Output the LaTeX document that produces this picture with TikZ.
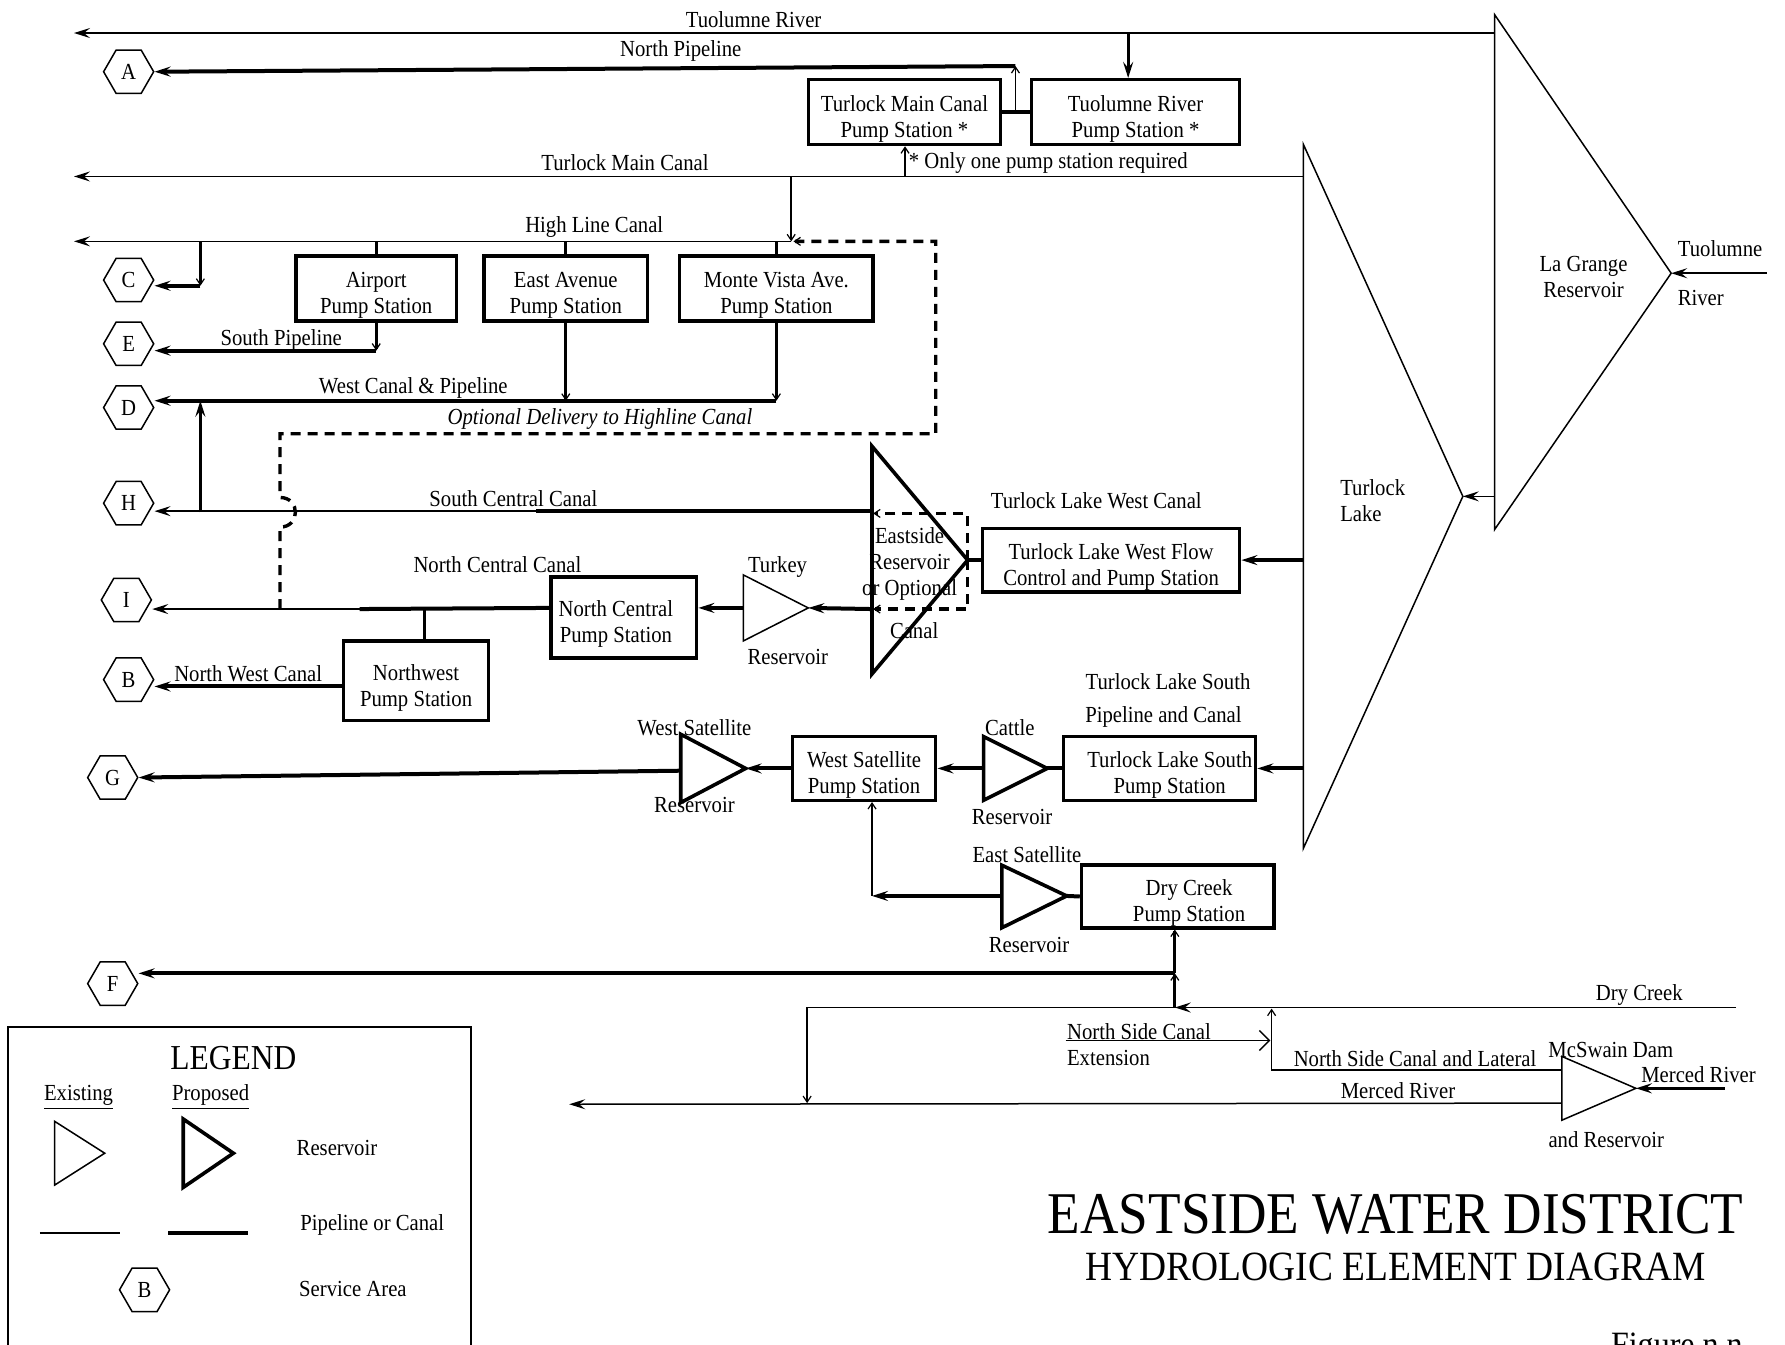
\documentclass[tikz,border=0pt]{standalone}
\usepackage{fontspec}
\setmainfont{Liberation Serif}[FakeStretch=0.9]
\usetikzlibrary{arrows.meta,shapes.geometric,fit}

\begin{document}
\begin{tikzpicture}[x=0.02cm,y=-0.02cm,
    every node/.style={font=\fontsize{11.5}{13}\selectfont},
    pipe/.style={line width=0.75pt},
    newpipe/.style={line width=2pt},
    link/.style={line width=1.4pt},
    arr/.style={-{Stealth[length=8pt,width=5pt,inset=3pt]}},
    barb/.style={-{Straight Barb[length=3pt,width=4pt,line width=0.6pt]}},
    pump/.style={draw,line width=1.7pt,inner sep=0pt},
    boxtext/.style={align=center,yshift=-0.12cm},
    res/.style={line width=0.75pt,line join=miter},
    newres/.style={line width=1.8pt,line join=miter},
    area/.style={draw,line width=0.75pt,regular polygon,regular polygon sides=6,
      minimum size=0.88cm,inner sep=0pt},
    optional/.style={line width=1.7pt,dash pattern=on 5pt off 3.5pt}]
  \useasboundingbox (0,0) rectangle (1568,1181);

  % service areas
  \node[area] (A) at (113,63) {A}; \node[area] (C) at (113,246) {C};
  \node[area] (E) at (113,302) {E}; \node[area] (D) at (113,358) {D};
  \node[area] (H) at (113,442) {H}; \node[area] (I) at (111,527) {I};
  \node[area] (B) at (113,597) {B}; \node[area] (G) at (99,683) {G};
  \node[area] (F) at (99,864) {F};

  % pump stations
  \node[pump,fit={(710,70) (879,127)}] (tmcps) {};
  \node[pump,fit={(906,70) (1089,127)}] (trps) {};
  \node[pump,fit={(260,225) (401,282)}] (aps) {};
  \node[pump,fit={(425,225) (569,282)}] (eaps) {};
  \node[pump,fit={(597,225) (767,282)}] (mvps) {};
  \node[pump,fit={(863,464) (1089,520)}] (tlwps) {};
  \node[pump,fit={(484,507) (612,578)}] (ncps) {};
  \node[pump,fit={(302,563) (429,633)}] (nwps) {};
  \node[pump,fit={(696,647) (822,703)}] (wsps) {};
  \node[pump,fit={(934,647) (1103,703)}] (tlsps) {};
  \node[pump,fit={(950,760) (1119,815)}] (dcps) {};
  \node[boxtext] (tmcps-t) at (tmcps) {Turlock Main Canal\\Pump Station *};
  \node[boxtext] (trps-t) at (trps) {Tuolumne River\\Pump Station *};
  \node[boxtext] (aps-t) at (aps) {Airport\\Pump Station};
  \node[boxtext] (eaps-t) at (eaps) {East Avenue\\Pump Station};
  \node[boxtext] (mvps-t) at (mvps) {Monte Vista Ave.\\Pump Station};
  \node[boxtext] (tlwps-t) at (tlwps) {Turlock Lake West Flow\\Control and Pump Station};
  \node[boxtext,xshift=-0.14cm] (ncps-t) at (ncps) {North Central\\Pump Station};
  \node[boxtext] (nwps-t) at (nwps) {Northwest\\Pump Station};
  \node[boxtext] (wsps-t) at (wsps) {West Satellite\\Pump Station};
  \node[boxtext,xshift=0.18cm] (tlsps-t) at (tlsps) {Turlock Lake South\\Pump Station};
  \node[boxtext,xshift=0.2cm] (dcps-t) at (dcps) {Dry Creek\\Pump Station};

  % reservoirs
  \coordinate (lg-top) at (1313,13); \coordinate (lg-bot) at (1313,465);
  \coordinate (lg-tip) at (1468,240);
  \draw[res] (lg-top) -- (lg-bot) -- (lg-tip) -- cycle;
  \coordinate (tl-top) at (1145,127); \coordinate (tl-bot) at (1145,745);
  \coordinate (tl-tip) at (1285,436);
  \draw[res] (tl-top) -- (tl-bot) -- (tl-tip) -- cycle;
  \coordinate (es-top) at (766,392); \coordinate (es-bot) at (766,592);
  \coordinate (es-tip) at (850,492);
  \draw[newres] (es-top) -- (es-bot) -- (es-tip) -- cycle;
  \coordinate (tk-top) at (653,505); \coordinate (tk-bot) at (653,563);
  \coordinate (tk-tip) at (710,534);
  \draw[res] (tk-top) -- (tk-bot) -- (tk-tip) -- cycle;
  \coordinate (wsr-top) at (598,645); \coordinate (wsr-bot) at (598,705);
  \coordinate (wsr-tip) at (655,675);
  \draw[newres] (wsr-top) -- (wsr-bot) -- (wsr-tip) -- cycle;
  \coordinate (ct-top) at (864,647); \coordinate (ct-bot) at (864,703);
  \coordinate (ct-tip) at (920,675);
  \draw[newres] (ct-top) -- (ct-bot) -- (ct-tip) -- cycle;
  \coordinate (esr-top) at (880,760); \coordinate (esr-bot) at (880,815);
  \coordinate (esr-tip) at (937,787);
  \draw[newres] (esr-top) -- (esr-bot) -- (esr-tip) -- cycle;
  \coordinate (ms-top) at (1372,928); \coordinate (ms-bot) at (1372,984);
  \coordinate (ms-tip) at (1437,956);
  \draw[res] (ms-top) -- (ms-bot) -- (ms-tip) -- cycle;

  % Tuolumne River and North Pipeline
  \coordinate (tr-in) at (1552,240); \coordinate (tr-e) at (1313,29);
  \coordinate (tr-w) at (65,29); \coordinate (tr-tap) at (991,29);
  \coordinate (lg-out) at (1313,436);
  \draw[pipe,arr] (tr-in) -- (lg-tip);
  \draw[pipe,arr] (lg-out) -- (tl-tip);
  \draw[pipe,arr] (tr-e) -- (tr-w);
  \draw[link,arr] (tr-tap) -- (tr-tap |- trps.north);
  \draw[newpipe] (tmcps.east) -- (trps.west);
  \coordinate (np-j) at (892,99); \coordinate (np-top) at (892,58);
  \draw[pipe,barb] (np-j) -- (np-top);
  \draw[newpipe,arr] (np-top) -- (A.east);

  % Turlock Main Canal and High Line Canal
  \coordinate (tmc-e) at (1145,155); \coordinate (tmc-w) at (65,155);
  \coordinate (tmc-tap) at (795,155); \coordinate (hl-tap) at (695,155);
  \coordinate (hl-j) at (695,212); \coordinate (hl-w) at (65,212);
  \draw[pipe,arr] (tmc-e) -- (tmc-w);
  \draw[link,barb] (tmc-tap) -- (tmc-tap |- tmcps.south);
  \draw[pipe,barb] (hl-tap) -- (hl-j);
  \draw[pipe,arr] (hl-j) -- (hl-w);
  \draw[link] (aps.north |- hl-j) -- (aps.north);
  \draw[link] (eaps.north |- hl-j) -- (eaps.north);
  \draw[link] (mvps.north |- hl-j) -- (mvps.north);
  \coordinate (c-tap) at (176,212); \coordinate (c-j) at (176,251);
  \draw[link,barb] (c-tap) -- (c-j);
  \draw[newpipe,arr] (c-j) -- (C.east |- c-j);
  \coordinate (sp-j) at (330,308);
  \draw[link,barb] (aps.south) -- (aps.south |- sp-j);
  \draw[newpipe,arr] (aps.south |- sp-j) -- (E.east |- sp-j);
  \coordinate (wc-e) at (682,352);
  \draw[link,barb] (eaps.south) -- (eaps.south |- wc-e);
  \draw[link,barb] (mvps.south) -- (mvps.south |- wc-e);
  \draw[newpipe,arr] (mvps.south |- wc-e) -- (D.east |- wc-e);
  \coordinate (h-j) at (176,450);
  \draw[link,arr] (h-j) -- (h-j |- wc-e);

  % Eastside Reservoir and canals
  \coordinate (sc-e) at (766,449); \coordinate (sc-mid) at (471,449);
  \draw[newpipe] (sc-e) -- (sc-mid);
  \draw[pipe,arr] (sc-mid) -- (H.east |- sc-mid);
  \draw[optional,barb] (es-tip) -- (850,451) -- (767,451);
  \draw[optional,barb] (es-tip) -- (850,535) -- (767,535);
  \draw[newpipe] (es-tip) -- (tlwps.west);
  \coordinate (tl-w1) at (1145,492);
  \draw[newpipe,arr] (tl-w1) -- (tlwps.east);
  \coordinate (es-w) at (766,535);
  \draw[newpipe,arr] (es-w) -- (tk-tip);
  \draw[newpipe,arr] (653,534) -- (ncps.east |- tk-tip);
  \coordinate (nc-mid) at (316,535); \coordinate (nc-tap) at (373,535);
  \draw[newpipe] (ncps.west |- tk-tip) -- (nc-mid);
  \draw[pipe,arr] (nc-mid) -- (I.east |- nc-mid);
  \draw[link] (nc-tap) -- (nc-tap |- nwps.north);
  \coordinate (nw-j) at (302,603);
  \draw[newpipe,arr] (nw-j) -- (B.east |- nw-j);
  % optional delivery, jumping over South Central Canal
  \coordinate (od-s) at (246,535); \coordinate (od-e) at (697,212);
  \draw[optional,barb] (od-s) -- (246,463) .. controls (264,463) and (264,437) .. (246,437)
    -- (246,381) -- (822,381) -- (822,212) -- (od-e);

  % south side
  \draw[newpipe,arr] (wsps.west) -- (wsr-tip);
  \draw[newpipe,arr] (598,677) -- (G.east);
  \draw[newpipe,arr] (ct-top |- ct-tip) -- (wsps.east);
  \draw[newpipe] (tlsps.west) -- (ct-tip);
  \coordinate (tl-w2) at (1145,675);
  \draw[newpipe,arr] (tl-w2) -- (tlsps.east);
  \draw[newpipe] (dcps.west) -- (esr-tip);
  \coordinate (ws-j) at (766,787);
  \draw[newpipe,arr] (esr-top |- esr-tip) -- (ws-j);
  \draw[link,barb] (ws-j) -- (ws-j |- wsps.south);
  \coordinate (f-j) at (1032,855);
  \draw[link,barb] (f-j) -- (f-j |- dcps.south);
  \draw[newpipe,arr] (f-j) -- (F.east |- f-j);

  % Dry Creek, North Side Canal, Merced River
  \coordinate (dc-e) at (1525,885); \coordinate (dc-j) at (1032,885);
  \coordinate (dc-w) at (709,885); \coordinate (mr-j) at (709,969);
  \draw[pipe,arr] (dc-e) -- (dc-j);
  \draw[link,barb] (dc-j) -- (f-j);
  \draw[pipe,barb] (dc-j) -- (dc-w) -- (mr-j);
  \coordinate (ns-e) at (1372,940); \coordinate (ns-c) at (1117,940);
  \coordinate (ns-j) at (1117,886);
  \draw[pipe,barb] (ns-e) -- (ns-c) -- (ns-j);
  \coordinate (nse-w) at (936,914); \coordinate (nse-e) at (1116,914);
  \draw[pipe,-{Straight Barb[length=5pt,width=10pt,line width=0.75pt]}] (nse-w) -- (nse-e);
  \coordinate (mr-in) at (1515,956); \coordinate (mr-e) at (1372,969);
  \coordinate (mr-w) at (500,970);
  \draw[link,arr] (mr-in) -- (ms-tip);
  \draw[pipe,arr] (mr-e) -- (mr-w);

  % labels
  \node (l-tr) at (662,17) {Tuolumne River};
  \node (l-np) at (598,45) {North Pipeline};
  \node (l-tmc) at (549,143) {Turlock Main Canal};
  \node[anchor=west,inner sep=0pt] (l-one) at (798,143) {* Only one pump station required};
  \node (l-hl) at (522,199) {High Line Canal};
  \node (l-sp) at (247,299) {South Pipeline};
  \node (l-wc) at (363,341) {West Canal \& Pipeline};
  \node (l-od) at (527,368) {\itshape Optional Delivery to Highline Canal};
  \node (l-sc) at (451,438) {South Central Canal};
  \node (l-nc) at (437,496) {North Central Canal};
  \node (l-nw) at (218,592) {North West Canal};
  \node (l-tlw) at (963,440) {Turlock Lake West Canal};
  \node[align=center] (l-es) at (799,495) {Eastside\\Reservoir\\or Optional};
  \node (l-esc) at (803,554) {Canal};
  \node (l-tk1) at (683,498) {Turkey}; \node (l-tk2) at (692,577) {Reservoir};
  \node (l-tls1) at (1026,599) {Turlock Lake South};
  \node (l-tls2) at (1022,630) {Pipeline and Canal};
  \node (l-ws1) at (610,639) {West Satellite}; \node (l-ws2) at (610,707) {Reservoir};
  \node (l-ct1) at (887,639) {Cattle}; \node (l-ct2) at (889,718) {Reservoir};
  \node (l-es1) at (902,751) {East Satellite}; \node (l-es2) at (904,830) {Reservoir};
  \node[align=left,anchor=west,inner sep=0pt] (l-tl) at (1177,440) {Turlock\\Lake};
  \node[align=center] (l-lg) at (1391,243) {La Grange\\Reservoir};
  \node (l-tu1) at (1511,218) {Tuolumne}; \node (l-tu2) at (1494,262) {River};
  \node (l-dc) at (1440,874) {Dry Creek};
  \node[anchor=west,inner sep=0pt] (l-nse1) at (937,906) {North Side Canal};
  \node[anchor=west,inner sep=0pt] (l-nse2) at (937,929) {Extension};
  \node (l-nsl) at (1243,930) {North Side Canal and Lateral};
  \node (l-ms1) at (1415,922) {McSwain Dam};
  \node (l-ms2) at (1411,1001) {and Reservoir};
  \node (l-mr1) at (1492,944) {Merced River};
  \node (l-mr2) at (1228,958) {Merced River};

  % legend
  \draw[line width=1pt] (7,1195) -- (7,902) -- (414,902) -- (414,1195);
  \node[font=\fontsize{17.5}{20}\selectfont] (l-leg) at (205,929) {LEGEND};
  \node (l-ex) at (69,964) {\underline{Existing}};
  \node (l-pr) at (185,964) {\underline{Proposed}};
  \draw[res] (48,985) -- (48,1041) -- (92,1013) -- cycle;
  \draw[newres] (161,983) -- (161,1043) -- (205,1013) -- cycle;
  \node (l-res) at (296,1008) {Reservoir};
  \draw[pipe] (35,1083) -- (105,1083);
  \draw[newpipe] (148,1083) -- (218,1083);
  \node (l-pc) at (327,1076) {Pipeline or Canal};
  \node[area] (legB) at (127,1133) {B};
  \node (l-sa) at (310,1132) {Service Area};

  % title
  \node[font=\fontsize{29.6}{32}\selectfont] (title) at (1226,1067) {EASTSIDE WATER DISTRICT};
  \node[font=\fontsize{20.8}{24}\selectfont] (subtitle) at (1226,1113) {HYDROLOGIC ELEMENT DIAGRAM};
  \node[font=\fontsize{17.8}{20}\selectfont,anchor=base] (fig) at (1473,1192) {Figure n.n};
\end{tikzpicture}
\end{document}
